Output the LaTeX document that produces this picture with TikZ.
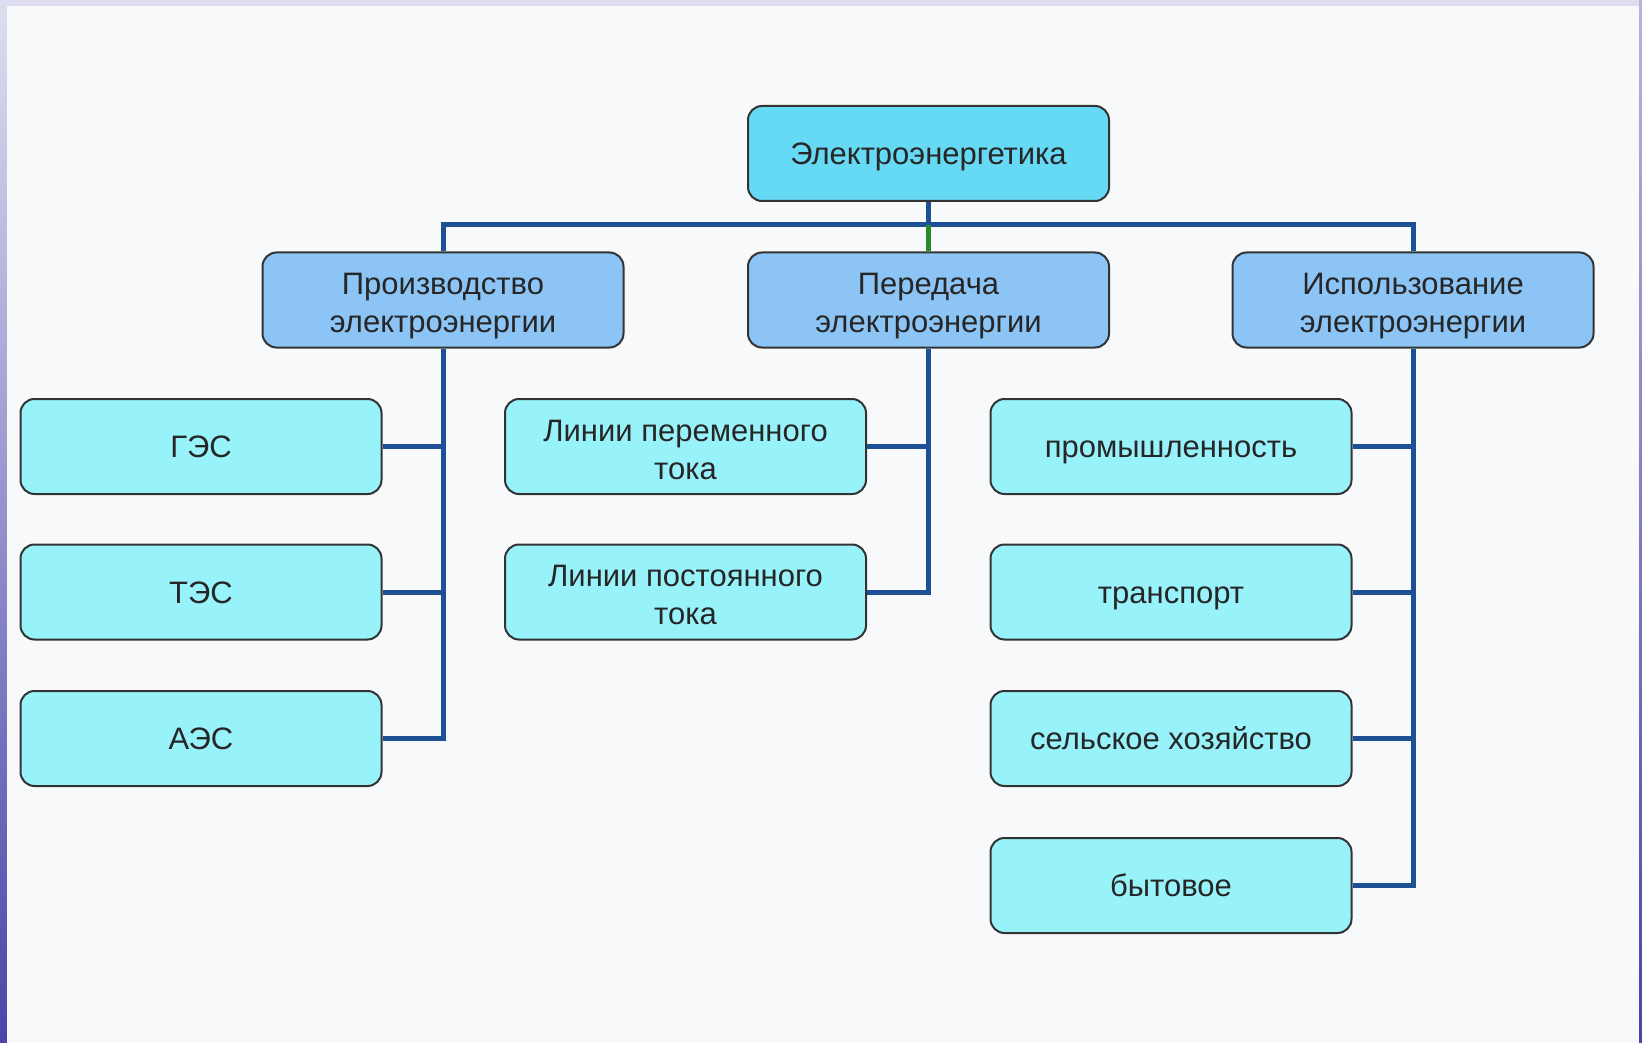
\documentclass[tikz,border=0pt]{standalone}
\usepackage{fontspec}
\setmainfont{Liberation Sans}
\usepackage{tikz}
\usetikzlibrary{calc}

\definecolor{topfill}{RGB}{102,217,245}
\definecolor{midfill}{RGB}{140,196,245}
\definecolor{leaffill}{RGB}{152,242,250}
\definecolor{linkblue}{RGB}{30,80,150}
\definecolor{linkgreen}{RGB}{40,140,40}
\definecolor{paper}{RGB}{248,249,250}
\definecolor{frametop}{RGB}{222,222,240}
\definecolor{framelow}{RGB}{74,68,168}

\newcommand\boxstrut{\rule[-7pt]{0pt}{36pt}}
\newcommand\twolines[2]{\rule{0pt}{34pt}#1\\#2\rule[-7pt]{0pt}{7pt}}

\tikzset{
  box/.style={draw=black!80, line width=2pt, rounded corners=14pt,
    minimum width=361pt, minimum height=95pt, align=center,
    text=black!85, font=\fontsize{31}{38}\selectfont},
  topbox/.style={box, fill=topfill},
  midbox/.style={box, fill=midfill},
  leafbox/.style={box, fill=leaffill},
  link/.style={draw=linkblue, line width=5pt},
  greenlink/.style={draw=linkgreen, line width=5pt}
}

\begin{document}
\begin{tikzpicture}[x=1pt,y=-1pt]
    \useasboundingbox (0,0) rectangle (1642,1043);
    % background and frame
    \fill[frametop] (0,0) rectangle (1642,1043);
    \shade[top color=frametop, bottom color=framelow] (0,0) rectangle (7,1043);
    \shade[top color=framelow!40, bottom color=framelow] (1639,0) rectangle (1642,1043);
    \fill[paper] (7,6) rectangle (1639,1043);

    \node[topbox] (top) at (928.5,153.5) {\boxstrut Электроэнергетика};
    \node[midbox] (prod)  at (443,300)    {\twolines{Производство}{электроэнергии}};
    \node[midbox] (trans) at (928.5,300)  {\twolines{Передача}{электроэнергии}};
    \node[midbox] (use)   at (1413,300)   {\twolines{Использование}{электроэнергии}};

    \node[leafbox] (ges) at (201,446.5) {\boxstrut ГЭС};
    \node[leafbox] (tes) at (201,592)   {\boxstrut ТЭС};
    \node[leafbox] (aes) at (201,738.5) {\boxstrut АЭС};

    \node[leafbox] (lac) at (685.5,446.5) {\twolines{Линии переменного}{тока}};
    \node[leafbox] (ldc) at (685.5,592)   {\twolines{Линии постоянного}{тока}};

    \node[leafbox] (ind)   at (1171,446.5) {\boxstrut промышленность};
    \node[leafbox] (trp)   at (1171,592)   {\boxstrut транспорт};
    \node[leafbox] (agr)   at (1171,738.5) {\boxstrut сельское хозяйство};
    \node[leafbox] (home)  at (1171,885.5) {\boxstrut бытовое};

    \coordinate (bus) at ($(top.south |- 0,225)$);
    \draw[link] (top.south) -- (bus);
    \draw[link] (prod.north) |- (bus) -| (use.north);
    \draw[greenlink] (bus) -- (trans.north);

    \foreach \n in {ges,tes,aes} \draw[link] (prod.south) |- (\n.east);
    \foreach \n in {lac,ldc} \draw[link] (trans.south) |- (\n.east);
    \foreach \n in {ind,trp,agr,home} \draw[link] (use.south) |- (\n.east);
  \end{tikzpicture}
\end{document}
